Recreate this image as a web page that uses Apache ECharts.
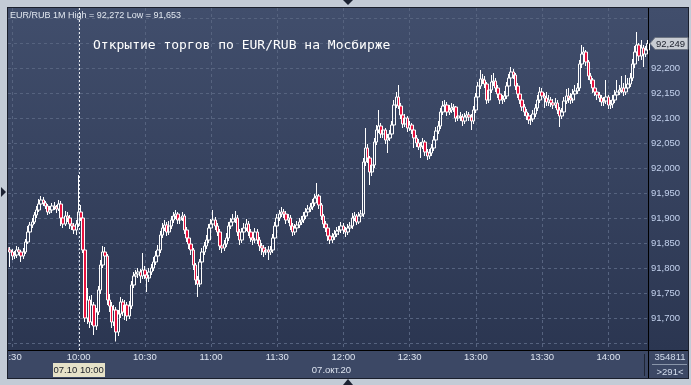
<!DOCTYPE html>
<html><head><meta charset="utf-8">
<script src="https://cdn.jsdelivr.net/npm/echarts@6/dist/echarts.min.js"></script>
<style>html,body{margin:0;padding:0;background:#c3cbd6;}#c{width:691px;height:385px;}</style>
</head><body><div id="c"></div>
<script>
// ---- data (EUR/RUB, 1-minute candles, 07.10.2020 from 9:28) ----
const startTime = '9:28';
const firstOpen = 91.840;
const closes = [
91.836,91.832,91.824,91.826,91.836,91.832,91.824,91.832,91.852,91.872,
91.886,91.892,91.906,91.916,91.928,91.936,91.930,91.924,91.912,91.916,
91.924,91.922,91.918,91.928,91.900,91.888,91.904,91.900,91.888,91.884,
91.876,91.888,91.912,91.900,91.836,91.700,91.736,91.692,91.726,91.684,
91.712,91.756,91.806,91.832,91.824,91.736,91.724,91.692,91.716,91.672,
91.708,91.732,91.712,91.726,91.704,91.724,91.766,91.784,91.788,91.792,
91.784,91.796,91.786,91.780,91.792,91.800,91.812,91.824,91.836,91.866,
91.880,91.886,91.872,91.884,91.896,91.904,91.908,91.896,91.900,91.904,
91.876,91.860,91.848,91.836,91.806,91.776,91.768,91.812,91.832,91.844,
91.856,91.880,91.888,91.896,91.884,91.872,91.844,91.840,91.848,91.860,
91.884,91.892,91.898,91.900,91.872,91.856,91.872,91.880,91.888,91.872,
91.860,91.856,91.872,91.856,91.844,91.840,91.832,91.836,91.832,91.836,
91.860,91.884,91.900,91.908,91.912,91.908,91.896,91.900,91.884,91.872,
91.880,91.886,91.892,91.896,91.904,91.912,91.918,91.922,91.930,91.940,
91.944,91.926,91.904,91.888,91.880,91.864,91.856,91.862,91.868,91.874,
91.876,91.884,91.876,91.872,91.880,91.884,91.900,91.904,91.892,91.904,
91.908,92.012,92.040,92.020,91.992,92.006,92.052,92.076,92.084,92.068,
92.076,92.056,92.060,92.068,92.086,92.126,92.142,92.124,92.106,92.088,
92.100,92.080,92.086,92.076,92.060,92.050,92.042,92.044,92.052,92.032,
92.024,92.030,92.040,92.056,92.074,92.084,92.112,92.124,92.126,92.112,
92.116,92.120,92.122,92.100,92.104,92.102,92.094,92.102,92.106,92.102,
92.094,92.116,92.142,92.164,92.178,92.176,92.168,92.136,92.156,92.172,
92.174,92.160,92.148,92.136,92.138,92.144,92.164,92.180,92.192,92.186,
92.164,92.148,92.136,92.122,92.112,92.104,92.096,92.098,92.108,92.120,
92.136,92.152,92.144,92.140,92.132,92.136,92.130,92.126,92.130,92.116,
92.104,92.112,92.134,92.144,92.140,92.136,92.148,92.154,92.160,92.208,
92.228,92.232,92.212,92.184,92.176,92.160,92.152,92.146,92.140,92.132,
92.134,92.142,92.126,92.128,92.136,92.146,92.152,92.156,92.160,92.152,
92.160,92.168,92.180,92.208,92.232,92.246,92.224,92.240,92.228,92.236,
92.249];
const highs = [
91.846,91.842,91.838,91.834,91.844,91.842,91.836,91.840,91.858,91.884,
91.892,91.900,91.912,91.924,91.938,91.944,91.942,91.934,91.928,91.924,
91.930,91.932,91.926,91.936,91.934,91.906,91.914,91.912,91.906,91.894,
91.890,91.896,91.986,91.926,91.904,91.840,91.760,91.744,91.746,91.732,
91.720,91.764,91.816,91.844,91.842,91.828,91.748,91.732,91.726,91.722,
91.716,91.742,91.738,91.736,91.732,91.734,91.774,91.792,91.796,91.800,
91.798,91.830,91.804,91.792,91.800,91.808,91.822,91.834,91.846,91.874,
91.890,91.896,91.892,91.894,91.904,91.912,91.916,91.912,91.908,91.912,
91.908,91.882,91.866,91.854,91.840,91.810,91.784,91.818,91.840,91.852,
91.866,91.888,91.898,91.916,91.902,91.890,91.878,91.852,91.856,91.870,
91.892,91.900,91.908,91.914,91.906,91.878,91.880,91.890,91.898,91.894,
91.878,91.868,91.880,91.878,91.862,91.850,91.846,91.842,91.844,91.844,
91.868,91.892,91.908,91.916,91.922,91.918,91.914,91.908,91.906,91.890,
91.888,91.894,91.900,91.904,91.912,91.920,91.926,91.930,91.938,91.948,
91.970,91.948,91.930,91.908,91.894,91.884,91.870,91.870,91.876,91.882,
91.884,91.892,91.890,91.882,91.888,91.892,91.910,91.912,91.908,91.912,
91.916,92.020,92.080,92.048,92.024,92.016,92.060,92.086,92.116,92.090,
92.084,92.080,92.068,92.076,92.094,92.136,92.152,92.166,92.130,92.112,
92.108,92.104,92.094,92.090,92.080,92.066,92.058,92.052,92.060,92.056,
92.038,92.038,92.048,92.064,92.082,92.094,92.120,92.134,92.136,92.132,
92.126,92.130,92.128,92.124,92.112,92.112,92.108,92.110,92.114,92.112,
92.108,92.124,92.150,92.172,92.196,92.188,92.184,92.172,92.164,92.186,
92.190,92.180,92.166,92.154,92.146,92.154,92.172,92.188,92.202,92.198,
92.190,92.170,92.154,92.142,92.128,92.118,92.110,92.106,92.116,92.128,
92.146,92.162,92.160,92.150,92.152,92.146,92.142,92.138,92.140,92.136,
92.122,92.120,92.142,92.158,92.160,92.150,92.158,92.166,92.170,92.216,
92.246,92.242,92.236,92.216,92.190,92.180,92.166,92.158,92.152,92.146,
92.142,92.176,92.146,92.136,92.146,92.156,92.176,92.166,92.184,92.170,
92.186,92.180,92.190,92.218,92.244,92.272,92.250,92.256,92.246,92.244,
92.256];
const lows = [
91.826,91.802,91.816,91.818,91.820,91.826,91.812,91.818,91.828,91.848,
91.866,91.880,91.888,91.900,91.912,91.922,91.924,91.918,91.906,91.908,
91.910,91.916,91.910,91.914,91.884,91.880,91.884,91.892,91.878,91.876,
91.868,91.866,91.882,91.894,91.830,91.692,91.688,91.680,91.686,91.666,
91.676,91.706,91.748,91.800,91.816,91.726,91.712,91.680,91.684,91.653,
91.664,91.700,91.704,91.696,91.694,91.698,91.718,91.760,91.776,91.780,
91.770,91.778,91.778,91.752,91.772,91.786,91.794,91.806,91.818,91.830,
91.860,91.874,91.864,91.866,91.878,91.890,91.898,91.888,91.888,91.894,
91.868,91.852,91.838,91.826,91.796,91.766,91.742,91.762,91.806,91.826,
91.838,91.850,91.874,91.882,91.876,91.864,91.836,91.830,91.834,91.842,
91.854,91.878,91.886,91.890,91.864,91.846,91.850,91.866,91.874,91.864,
91.852,91.846,91.850,91.848,91.834,91.826,91.822,91.826,91.816,91.826,
91.830,91.854,91.878,91.894,91.902,91.900,91.888,91.890,91.876,91.864,
91.866,91.874,91.880,91.886,91.890,91.898,91.906,91.912,91.916,91.924,
91.934,91.918,91.896,91.880,91.872,91.854,91.848,91.850,91.856,91.862,
91.866,91.870,91.868,91.862,91.866,91.874,91.878,91.894,91.886,91.888,
91.896,91.902,92.004,92.010,91.966,91.984,92.000,92.046,92.070,92.060,
92.060,92.048,92.030,92.054,92.062,92.080,92.120,92.118,92.098,92.080,
92.082,92.072,92.074,92.068,92.040,92.042,92.036,92.020,92.038,92.024,
92.016,92.018,92.024,92.034,92.050,92.068,92.078,92.106,92.116,92.104,
92.106,92.110,92.112,92.092,92.094,92.094,92.084,92.088,92.096,92.094,
92.076,92.088,92.110,92.136,92.158,92.168,92.160,92.128,92.130,92.150,
92.164,92.152,92.140,92.128,92.128,92.132,92.138,92.158,92.174,92.178,
92.156,92.140,92.128,92.114,92.104,92.096,92.088,92.086,92.092,92.102,
92.114,92.130,92.136,92.120,92.124,92.124,92.122,92.118,92.120,92.108,
92.082,92.098,92.106,92.128,92.130,92.128,92.130,92.142,92.148,92.154,
92.200,92.220,92.204,92.176,92.168,92.150,92.144,92.136,92.132,92.124,
92.124,92.128,92.118,92.118,92.120,92.130,92.140,92.146,92.150,92.144,
92.146,92.154,92.162,92.174,92.200,92.226,92.214,92.216,92.202,92.222,
92.230];
const lastPrice = 92.249;
const yMin = 91.65, yMax = 92.30, yStep = 0.05;
const crossIndex = 32;
const crossLabel = '07.10 10:00';
const dateLabel = '07.окт.20';
const dateIndex = 152;
const titleText = 'EUR/RUB 1M High = 92,272 Low = 91,653';
const noteText = 'Открытие торгов по EUR/RUB на Мосбирже';
const volumeText = '354811';
const barsText = '>291<';

// ---- build ----
const categories = [];
(function(){
  const p = startTime.split(':');
  let m = (+p[0]) * 60 + (+p[1]);
  for (let i = 0; i < closes.length; i++, m++) {
    categories.push(Math.floor(m / 60) + ':' + String(m % 60).padStart(2, '0'));
  }
})();
const candles = closes.map((c, i) => {
  const o = i === 0 ? firstOpen : closes[i - 1];
  return [o, c, lows[i], highs[i]];
});
const isHalfHour = (i, v) => /:(00|30)$/.test(v);
const fmt = v => v.toFixed(3).replace('.', ',');
const FONT = 'Arial, "Liberation Sans", sans-serif';

const chart = echarts.init(document.getElementById('c'), null, {renderer: 'canvas'});
const option = {
  animation: false,
  backgroundColor: '#c3cbd6',
  grid: [
    {left: 8, right: 43, top: 18, bottom: 42},
    {left: 8, right: 43, top: 8, bottom: 35}
  ],
  xAxis: [
    {type: 'category', gridIndex: 0, data: categories, boundaryGap: false,
     axisLine: {show: false}, axisTick: {show: false}, splitLine: {show: false},
     axisLabel: {interval: isHalfHour, color: '#dde4f0', fontSize: 9.5, fontFamily: FONT, margin: 9}},
    {type: 'category', gridIndex: 1, data: categories, boundaryGap: false,
     axisLine: {show: false}, axisTick: {show: false}, axisLabel: {show: false},
     splitLine: {show: true, interval: isHalfHour, lineStyle: {color: '#56637f', type: [3, 3], width: 1}}}
  ],
  yAxis: [
    {type: 'value', gridIndex: 0, position: 'right', min: yMin, max: yMax, interval: yStep, scale: true,
     axisLine: {show: false}, axisTick: {show: false},
     axisLabel: {color: '#c4d2ee', fontSize: 9.5, fontFamily: FONT, margin: 3, formatter: fmt,
                 showMinLabel: false, showMaxLabel: false},
     splitLine: {show: true, lineStyle: {color: '#56637f', type: [3, 3], width: 1}}},
    {type: 'value', gridIndex: 1, min: 0, max: 1, show: false}
  ],
  series: [{
    type: 'candlestick',
    xAxisIndex: 0, yAxisIndex: 0,
    data: candles,
    barWidth: 3,
    itemStyle: {
      color: 'rgba(0,0,0,0)', color0: '#e8123e',
      borderColor: '#ffffff', borderColor0: '#ffffff', borderColorDoji: '#ffffff',
      borderWidth: 1
    }
  }]
};
chart.setOption(option);

const cx = chart.convertToPixel({xAxisIndex: 0}, categories[crossIndex]);
const dx = chart.convertToPixel({xAxisIndex: 0}, categories[dateIndex]);
const py = chart.convertToPixel({yAxisIndex: 0}, lastPrice);
const cxi = Math.round(cx) + 0.5;

chart.setOption({
  graphic: {elements: [
    // backgrounds
    {type: 'rect', z: -100, silent: true, shape: {x: 7, y: 7, width: 682, height: 372},
     style: {fill: '#151a26'}},
    {type: 'rect', z: -99, silent: true, shape: {x: 8, y: 8, width: 680, height: 342},
     style: {fill: {type: 'linear', x: 0, y: 0, x2: 0, y2: 1,
       colorStops: [{offset: 0, color: '#414e6c'}, {offset: 1, color: '#2b3651'}]}}},
    {type: 'rect', z: -99, silent: true, shape: {x: 8, y: 351, width: 680, height: 27},
     style: {fill: '#3c4865'}},
    // separators
    {type: 'line', z: 50, silent: true, shape: {x1: 648.5, y1: 8, x2: 648.5, y2: 378},
     style: {stroke: '#000000', lineWidth: 1}},
    {type: 'line', z: 50, silent: true, shape: {x1: 8, y1: 350.5, x2: 688, y2: 350.5},
     style: {stroke: '#000000', lineWidth: 1}},
    {type: 'line', z: 50, silent: true, shape: {x1: 644.5, y1: 354, x2: 644.5, y2: 376},
     style: {stroke: '#1e2534', lineWidth: 1}},
    {type: 'line', z: 50, silent: true, shape: {x1: 652, y1: 364.5, x2: 687, y2: 364.5},
     style: {stroke: '#8a96aa', lineWidth: 1}},
    // outer light frame strips (cover overflowing labels)
    {type: 'rect', z: 90, silent: true, shape: {x: 0, y: 0, width: 7, height: 385}, style: {fill: '#c3cbd6'}},
    {type: 'rect', z: 90, silent: true, shape: {x: 0, y: 0, width: 691, height: 7}, style: {fill: '#c3cbd6'}},
    {type: 'rect', z: 90, silent: true, shape: {x: 689, y: 0, width: 2, height: 385}, style: {fill: '#c3cbd6'}},
    {type: 'rect', z: 90, silent: true, shape: {x: 0, y: 379, width: 691, height: 6}, style: {fill: '#c3cbd6'}},
    {type: 'rect', z: 91, silent: true, shape: {x: 7.5, y: 7.5, width: 681, height: 371},
     style: {fill: null, stroke: '#1a1f2c', lineWidth: 1}},
    // markers
    {type: 'polygon', z: 95, silent: true, shape: {points: [[343, 0], [353, 0], [348, 5]]}, style: {fill: '#1c2232'}},
    {type: 'polygon', z: 95, silent: true, shape: {points: [[343, 385], [353, 385], [348, 379]]}, style: {fill: '#1c2232'}},
    {type: 'polygon', z: 95, silent: true, shape: {points: [[1, 187], [1, 197], [6, 192]]}, style: {fill: '#1c2232'}},
    // crosshair
    {type: 'line', z: 60, silent: true, shape: {x1: cxi, y1: 8, x2: cxi, y2: 350},
     style: {stroke: '#e8ecf2', lineWidth: 1, lineDash: [2, 2]}},
    {type: 'rect', z: 96, silent: true, shape: {x: Math.round(cx) - 26, y: 363, width: 52, height: 14},
     style: {fill: '#e6e2c8'}},
    {type: 'text', z: 97, silent: true, style: {text: crossLabel, x: cx, y: 370.5, textAlign: 'center',
     textVerticalAlign: 'middle', verticalAlign: 'middle', font: '9.5px ' + FONT, fill: '#20242c'}},
    // date
    {type: 'text', z: 97, silent: true, style: {text: dateLabel, x: dx - 12, y: 370.5, textAlign: 'center',
     textVerticalAlign: 'middle', verticalAlign: 'middle', font: '9.5px ' + FONT, fill: '#dde4f0'}},
    // price tag
    {type: 'polygon', z: 96, silent: true,
     shape: {points: [[650, py], [655, py - 6], [688, py - 6], [688, py + 6], [655, py + 6]]},
     style: {fill: '#c8ccd3', stroke: '#6c7482', lineWidth: 1}},
    {type: 'text', z: 97, silent: true, style: {text: fmt(lastPrice), x: 656, y: py + 0.5,
     textVerticalAlign: 'middle', verticalAlign: 'middle', font: '9.5px ' + FONT, fill: '#1a1e2a'}},
    // texts
    {type: 'text', z: 97, silent: true, style: {text: titleText, x: 10, y: 15.5,
     textVerticalAlign: 'middle', verticalAlign: 'middle', font: '9px ' + FONT, fill: '#e2e8f0'}},
    {type: 'text', z: 97, silent: true, style: {text: noteText, x: 93, y: 46,
     textVerticalAlign: 'middle', verticalAlign: 'middle', font: '13px "DejaVu Sans Mono", monospace', fill: '#ffffff'}},
    {type: 'text', z: 97, silent: true, style: {text: volumeText, x: 670, y: 357.5, textAlign: 'center',
     textVerticalAlign: 'middle', verticalAlign: 'middle', font: '9.5px ' + FONT, fill: '#d2dcec'}},
    {type: 'text', z: 97, silent: true, style: {text: barsText, x: 670, y: 372, textAlign: 'center',
     textVerticalAlign: 'middle', verticalAlign: 'middle', font: '9.5px ' + FONT, fill: '#d2dcec'}}
  ]}
});
</script>
</body></html>
